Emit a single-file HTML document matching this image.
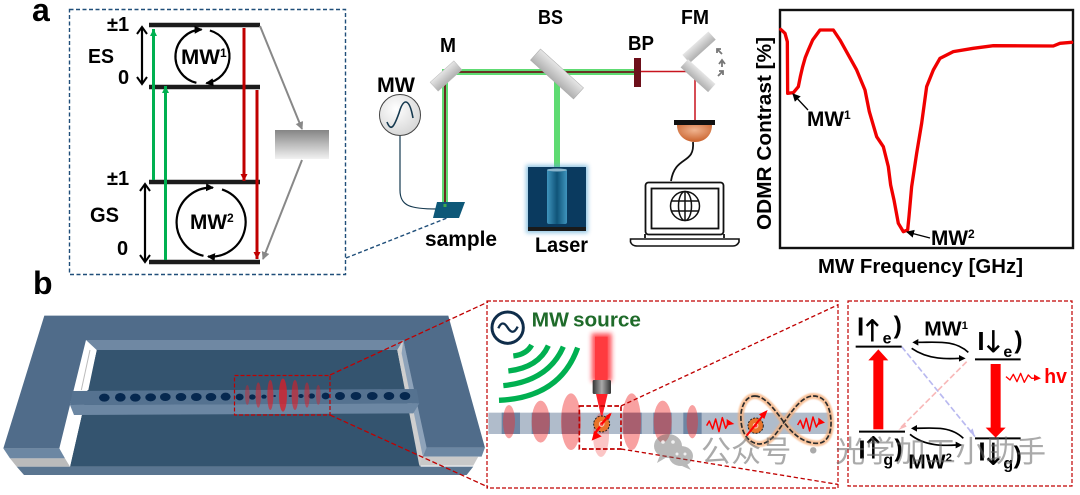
<!DOCTYPE html>
<html><head><meta charset="utf-8"><style>
html,body{margin:0;padding:0;background:#fff;width:1080px;height:495px;overflow:hidden}
svg{display:block;font-family:"Liberation Sans","Noto Sans CJK SC",sans-serif;font-weight:bold;filter:blur(.35px)}
</style></head><body>
<svg width="1080" height="495" viewBox="0 0 1080 495" xmlns="http://www.w3.org/2000/svg">
<defs>
<linearGradient id="gb" x1="0" y1="0" x2="0" y2="1"><stop offset="0" stop-color="#858585"/><stop offset="1" stop-color="#f2f2f2"/></linearGradient>
<linearGradient id="mir" x1="0" y1="0" x2="0" y2="1"><stop offset="0" stop-color="#e6e6e6"/><stop offset="1" stop-color="#b0b0b0"/></linearGradient>
<linearGradient id="cyl" x1="0" y1="0" x2="1" y2="0"><stop offset="0" stop-color="#3f94bd"/><stop offset=".5" stop-color="#0f5479"/><stop offset="1" stop-color="#3f94bd"/></linearGradient>
<linearGradient id="obj" x1="0" y1="0" x2="1" y2="0"><stop offset="0" stop-color="#333"/><stop offset=".5" stop-color="#aaa"/><stop offset="1" stop-color="#333"/></linearGradient>
<radialGradient id="det" cx=".5" cy=".3" r=".7"><stop offset="0" stop-color="#f0b490"/><stop offset="1" stop-color="#c9602a"/></radialGradient>
<radialGradient id="mwc" cx=".4" cy=".35" r=".7"><stop offset="0" stop-color="#fff"/><stop offset="1" stop-color="#d5d5d5"/></radialGradient>
<filter id="b2" x="-50%" y="-50%" width="200%" height="200%"><feGaussianBlur stdDeviation="2"/></filter>
<filter id="b6" x="-50%" y="-50%" width="200%" height="200%"><feGaussianBlur stdDeviation="7"/></filter>
<marker id="ak" markerUnits="userSpaceOnUse" markerWidth="12" markerHeight="12" refX="9" refY="6" orient="auto-start-reverse"><path d="M2 1L9 6L2 11" fill="none" stroke="#000" stroke-width="2"/></marker>
<marker id="ag" markerUnits="userSpaceOnUse" markerWidth="8" markerHeight="8" refX="7" refY="3.5" orient="auto"><path d="M0 0L7 3.5L0 7Z" fill="#00b050"/></marker>
<marker id="ar" markerUnits="userSpaceOnUse" markerWidth="8" markerHeight="8" refX="7" refY="3.5" orient="auto"><path d="M0 0L7 3.5L0 7Z" fill="#c00000"/></marker>
<marker id="agr" markerUnits="userSpaceOnUse" markerWidth="9" markerHeight="9" refX="7" refY="4" orient="auto"><path d="M0 0L8 4L0 8Z" fill="#888"/></marker>
<marker id="as" markerUnits="userSpaceOnUse" markerWidth="9" markerHeight="9" refX="7" refY="4" orient="auto"><path d="M0 0L8 4L0 8Z" fill="#000"/></marker>
</defs>
<rect width="1080" height="495" fill="#fff"/>

<!-- labels a,b -->
<text x="32" y="21" font-size="32">a</text>
<text x="33" y="294" font-size="32">b</text>

<!-- energy level box -->
<rect x="69.5" y="9.5" width="276" height="265" fill="none" stroke="#1f4e79" stroke-width="1.4" stroke-dasharray="4 2.5"/>
<g stroke="#1c1c1c" stroke-width="4.5">
<line x1="149" y1="25" x2="260" y2="25"/><line x1="149" y1="87" x2="260" y2="87"/>
<line x1="149" y1="182" x2="260" y2="182"/><line x1="149" y1="262" x2="260" y2="262"/>
</g>
<g stroke="#00b050" stroke-width="3" fill="none">
<line x1="153.500" y1="180" x2="153.500" y2="29" marker-end="url(#ag)"/>
<line x1="165.500" y1="260" x2="165.500" y2="86" marker-end="url(#ag)"/>
</g>
<g stroke="#c00000" stroke-width="3" fill="none">
<line x1="244" y1="28" x2="244" y2="181" marker-end="url(#ar)"/>
<line x1="257" y1="90" x2="257" y2="259" marker-end="url(#ar)"/>
</g>
<rect x="275" y="130" width="54" height="29" fill="url(#gb)"/>
<g stroke="#888" stroke-width="2" fill="none">
<line x1="260" y1="26" x2="302" y2="129" marker-end="url(#agr)"/>
<line x1="302" y1="160" x2="263" y2="259" marker-end="url(#agr)"/>
</g>
<g stroke="#000" stroke-width="2.200" fill="none">
<line x1="142" y1="27" x2="142" y2="84" marker-start="url(#ak)" marker-end="url(#ak)"/>
<line x1="145" y1="184" x2="145" y2="262" marker-start="url(#ak)" marker-end="url(#ak)"/>
<path d="M209.900 30.500A27 27 0 0 1 206.300 83.200" marker-end="url(#as)"/>
<path d="M196.400 82.800A27 27 0 0 1 201.600 29.500" marker-end="url(#as)"/>
<path d="M222 189.400A34.500 34.500 0 0 1 208 256.500" marker-end="url(#as)"/>
<path d="M203.500 255.800A34.500 34.500 0 0 1 213 187.700" marker-end="url(#as)"/>
</g>
<g font-size="20" fill="#000">
<text x="107" y="31">±1</text><text x="88" y="63" textLength="26" lengthAdjust="spacingAndGlyphs">ES</text><text x="118" y="84">0</text>
<text x="107" y="185">±1</text><text x="90" y="222" font-size="21" textLength="29" lengthAdjust="spacingAndGlyphs">GS</text><text x="117" y="255">0</text>
<text x="181" y="64" font-size="21" textLength="39" lengthAdjust="spacingAndGlyphs">MW</text><text x="220" y="57" font-size="12">1</text>
<text x="190" y="229" font-size="21" textLength="37" lengthAdjust="spacingAndGlyphs">MW</text><text x="227" y="222" font-size="12">2</text>
</g>

<!-- optics -->
<path d="M346 258L447 218" stroke="#1f4e79" stroke-width="1.400" stroke-dasharray="4 2.500" fill="none"/>
<g stroke="#5edb72" stroke-width="6" fill="none">
<path d="M445 207V72H635"/><path d="M557 76V167"/>
</g>
<g stroke="#6b1a1a" stroke-width="1.800" fill="none"><path d="M445 207V72H635"/></g>
<rect x="430" y="70" width="32" height="12" fill="url(#mir)" stroke="#bbb" stroke-width=".5" transform="rotate(-42 446 76)"/>
<rect x="528" y="66.500" width="58" height="15" fill="url(#mir)" stroke="#aaa" stroke-width=".5" transform="rotate(42 557 74)"/>
<rect x="634" y="58" width="7" height="29" fill="#6d0f1a"/>
<path d="M641 71.500H695V120" stroke="#c8141e" stroke-width="1.500" fill="none"/>
<rect x="682" y="42" width="35" height="11" fill="url(#mir)" transform="rotate(-42 699 48)"/>
<rect x="680" y="70" width="37" height="11" fill="url(#mir)" transform="rotate(42 698 75)"/>
<g fill="none" stroke="#777" stroke-width="1.800">
<path d="M722 54L717 49M717 53V49H721"/><path d="M722 67V61M719 64L722 60L725 64"/><path d="M718 76L723 71M719 71H723V75"/>
</g>
<rect x="674" y="120" width="41" height="5" fill="#111"/>
<path d="M677 125H712C712 136 704 142 695 142C686 142 677 136 677 125Z" fill="url(#det)"/>
<path d="M693 142C695 165 675 155 671 181" stroke="#111" stroke-width="1.800" fill="none"/>
<rect x="645.500" y="182.500" width="78" height="52" rx="3" fill="#fff" stroke="#111" stroke-width="1.800"/>
<rect x="651.500" y="188.500" width="67" height="40" fill="#fff" stroke="#111" stroke-width="1.800"/>
<path d="M645 234V238M724 234V238" stroke="#111" stroke-width="1.800"/>
<path d="M630.500 239H739V242Q737 246 733 246H637Q632 246 630.500 242Z" fill="#fff" stroke="#111" stroke-width="1.600"/>
<g fill="none" stroke="#111" stroke-width="1.500">
<circle cx="685" cy="206" r="14.500"/><ellipse cx="685" cy="206" rx="6.500" ry="14.500"/><path d="M671 201H699M671 211H699M685 191V221"/>
</g>
<rect x="526" y="165" width="62" height="68" fill="#5aa8d6" opacity=".65" filter="url(#b2)"/>
<rect x="528" y="167" width="58" height="64" fill="#0a3a5f"/>
<rect x="547" y="169" width="20" height="55" rx="2" fill="url(#cyl)"/>
<ellipse cx="557" cy="170" rx="10" ry="1.500" fill="#8cb6cc"/>
<rect x="528" y="227" width="58" height="4" fill="#1a1a1a"/>
<circle cx="400" cy="115" r="20.500" fill="url(#mwc)" stroke="#444" stroke-width="1"/>
<path d="M387 122C391 132 394 127 399 113C403 99 409 96 413 118" fill="none" stroke="#15394f" stroke-width="1.600"/>
<path d="M400 136V190C400 206 410 209 437 209" fill="none" stroke="#15394f" stroke-width="1.200"/>
<path d="M437 202H465L459 218H433Z" fill="#0e5878"/>
<line x1="445" y1="204" x2="445" y2="207" stroke="#3fa84f" stroke-width="3"/>
<g font-size="20" fill="#000">
<text x="377" y="92" font-size="21" textLength="38" lengthAdjust="spacingAndGlyphs">MW</text>
<text x="440" y="52" textLength="16" lengthAdjust="spacingAndGlyphs">M</text>
<text x="538" y="24" textLength="25" lengthAdjust="spacingAndGlyphs">BS</text>
<text x="628" y="50" textLength="26" lengthAdjust="spacingAndGlyphs">BP</text>
<text x="681" y="24" textLength="28" lengthAdjust="spacingAndGlyphs">FM</text>
<text x="425" y="246" font-size="21" textLength="72" lengthAdjust="spacingAndGlyphs">sample</text>
<text x="535" y="252" font-size="21" textLength="53" lengthAdjust="spacingAndGlyphs">Laser</text>
</g>

<!-- chart -->
<rect x="780" y="10" width="293" height="238" fill="none" stroke="#111" stroke-width="2.400"/>
<g transform="translate(740 0) scale(.3333)">
<polyline fill="none" stroke="#f00000" stroke-width="10" stroke-linejoin="round" stroke-linecap="round" points="122,88 135,100 142,125 143,280 160,278 175,260 181,230 188,200 196,172 205,150 218,120 240,90 280,90 300,120 325,165 350,210 375,270 388,335 410,410 430,440 445,500 452,555 462,600 475,670 490,695 503,690 507,650 515,560 530,460 545,370 560,260 580,210 600,175 640,155 700,145 760,137 940,138 960,130 995,127"/>
</g>
<g stroke="#000" stroke-width="1.300" fill="none">
<line x1="808" y1="110" x2="793" y2="94" marker-end="url(#as)"/>
<line x1="930" y1="238" x2="907" y2="232" marker-end="url(#as)"/>
</g>
<g font-size="21" fill="#000">
<text x="807" y="126" textLength="37" lengthAdjust="spacingAndGlyphs">MW</text><text x="844" y="119" font-size="12">1</text>
<text x="931" y="245" textLength="37" lengthAdjust="spacingAndGlyphs">MW</text><text x="968" y="238" font-size="12">2</text>
<text x="818" y="273" font-size="20" textLength="205" lengthAdjust="spacingAndGlyphs">MW Frequency [GHz]</text>
<text transform="translate(771 230) rotate(-90)" font-size="20" textLength="193" lengthAdjust="spacingAndGlyphs">ODMR Contrast [%]</text>
</g>

<!-- device -->
<g transform="translate(0 295) scale(.3333)">
<path d="M50 515H1420L1400 540H72Z" fill="#5a7590"/>
<path d="M290 165H1192L1262 515H210Z" fill="#34546f"/>
<path d="M258 135L290 165L210 515L178 460Z" fill="#fff"/>
<path d="M245 285L272 165H290L265 285ZM222 360H245L210 512L180 460Z" fill="#fff"/>
<path d="M270 165L244 285" stroke="#bbb" stroke-width="3" fill="none"/>
<path d="M1192 165L1210 135L1282 458L1258 512Z" fill="#cfcfcf"/>
<path d="M1210 135L1282 458L1268 482L1205 175Z" fill="#8ea3ba"/>
<path d="M258 135H1210L1192 165H290Z" fill="#6f88a3"/>
<path d="M10 460H178L195 490H30Z" fill="#6c87a3"/>
<path d="M30 490H195L210 515H50Z" fill="#bbb"/>
<path d="M1280 458H1455L1445 485H1268Z" fill="#6c87a3"/>
<path d="M1268 485H1435L1420 512H1258Z" fill="#c9c9c9"/>
<path d="M133 62H1345L1455 458H1280L1210 135H258L178 460H10Z" fill="#506c8a"/>
<path d="M218 288L1250 282L1258 325L210 330Z" fill="#557290"/>
<path d="M210 330L1258 325L1240 355L222 360Z" fill="#6c87a3"/>
<g fill="#06284f">
<ellipse cx="313" cy="308" rx="16" ry="12"/><ellipse cx="361" cy="307" rx="16" ry="13"/><ellipse cx="406" cy="308" rx="16" ry="12"/><ellipse cx="452" cy="307" rx="16" ry="12"/><ellipse cx="496" cy="306" rx="16" ry="12"/><ellipse cx="543" cy="306" rx="16" ry="12"/><ellipse cx="589" cy="306" rx="16" ry="12"/><ellipse cx="633" cy="306" rx="16" ry="12"/><ellipse cx="677" cy="305" rx="15" ry="12"/><ellipse cx="719" cy="306" rx="12" ry="10"/><ellipse cx="757" cy="306" rx="10" ry="8"/><ellipse cx="792" cy="305" rx="8" ry="6"/><ellipse cx="824" cy="303" rx="4" ry="3"/><ellipse cx="871" cy="303" rx="5" ry="3"/><ellipse cx="903" cy="303" rx="8" ry="6"/><ellipse cx="935" cy="303" rx="10" ry="8"/><ellipse cx="977" cy="303" rx="12" ry="10"/><ellipse cx="1020" cy="303" rx="15" ry="12"/><ellipse cx="1068" cy="303" rx="16" ry="12"/><ellipse cx="1117" cy="303" rx="16" ry="12"/><ellipse cx="1167" cy="303" rx="16" ry="12"/><ellipse cx="1215" cy="303" rx="16" ry="12"/>
</g>
<g fill="#e01c24">
<ellipse cx="742" cy="300" rx="7" ry="30" opacity=".4"/><ellipse cx="775" cy="300" rx="8" ry="38" opacity=".5"/><ellipse cx="811" cy="300" rx="9" ry="45" opacity=".6"/><ellipse cx="849" cy="300" rx="12" ry="50" opacity=".75"/><ellipse cx="885" cy="300" rx="10" ry="45" opacity=".6"/><ellipse cx="921" cy="300" rx="8" ry="38" opacity=".5"/><ellipse cx="955" cy="300" rx="7" ry="30" opacity=".4"/>
</g>
</g>
<rect x="234.500" y="375.500" width="95.500" height="39.500" fill="none" stroke="#c00000" stroke-width="1.200" stroke-dasharray="4 2"/>
<g fill="none" stroke="#c00000" stroke-width="1.300" stroke-dasharray="5 2.500">
<path d="M330 375L488 302M330 415L488 487"/>
</g>

<!-- middle panel -->
<rect x="487" y="301" width="351" height="187" fill="none" stroke="#c00000" stroke-width="1.200" stroke-dasharray="4 2"/>
<g transform="translate(485 295) scale(.3333)">
<rect x="10" y="353" width="1030" height="64" fill="#b0bccb"/>
<g fill="#6e86a4">
<rect x="50" y="353" width="55" height="64"/><rect x="140" y="353" width="55" height="64"/><rect x="230" y="353" width="55" height="64"/><rect x="415" y="353" width="55" height="64"/><rect x="505" y="353" width="55" height="64"/><rect x="595" y="353" width="55" height="64"/>
</g>
<g fill="#f03030" opacity=".45">
<ellipse cx="72" cy="380" rx="18" ry="50"/><ellipse cx="167" cy="380" rx="27" ry="63"/><ellipse cx="258" cy="380" rx="30" ry="85"/><ellipse cx="440" cy="380" rx="28" ry="85"/><ellipse cx="533" cy="380" rx="27" ry="63"/><ellipse cx="622" cy="380" rx="17" ry="50"/>
</g>
<ellipse cx="348" cy="420" rx="24" ry="66" fill="#f03030" opacity=".28"/>
<rect x="320" y="115" width="60" height="145" fill="#ff1d25" opacity=".75" filter="url(#b6)"/>
<rect x="330" y="125" width="38" height="135" fill="#ff3a3f"/>
<path d="M333 297H368L350 372Z" fill="#ff2028"/>
<rect x="323" y="255" width="55" height="42" rx="4" fill="url(#obj)"/>
<rect x="283" y="333" width="125" height="129" fill="none" stroke="#c00000" stroke-width="5" stroke-dasharray="14 7"/>
<path d="M408 333L1058 30M408 462L1058 568" fill="none" stroke="#c00000" stroke-width="4" stroke-dasharray="13 8"/>
<circle cx="350" cy="387" r="24" fill="#e8742a" stroke="#222" stroke-width="3" stroke-dasharray="6 4"/>
<circle cx="350" cy="387" r="7" fill="#ff4040" stroke="#ffd0c0" stroke-width="3"/>
<path d="M350 387L376 357" stroke="#f00" stroke-width="7"/>
<path d="M380 353L362 363L372 373Z" fill="#f00"/>
<path d="M345 395L328 418" stroke="#f00" stroke-width="7"/>
<path d="M320 437L328 408L350 424Z" fill="#f00"/>
<path id="eight" d="M810 303C840 303 870 345 897 382C925 420 960 447 1000 445C1030 442 1040 410 1038 375C1035 335 1020 303 985 303C950 303 920 350 897 382C880 405 860 445 825 447C795 447 770 420 768 375C765 340 780 303 810 303Z" fill="none" stroke="#f7b07c" stroke-width="18" opacity=".75" filter="url(#b2)"/>
<path d="M810 303C840 303 870 345 897 382C925 420 960 447 1000 445C1030 442 1040 410 1038 375C1035 335 1020 303 985 303C950 303 920 350 897 382C880 405 860 445 825 447C795 447 770 420 768 375C765 340 780 303 810 303Z" fill="none" stroke="#2b2b2b" stroke-width="5" stroke-dasharray="15 6"/>
<circle cx="812" cy="392" r="23" fill="#e8742a" stroke="#222" stroke-width="3" stroke-dasharray="6 4"/>
<circle cx="812" cy="392" r="7" fill="#ff4040" stroke="#ffd0c0" stroke-width="3"/>
<path d="M785 422L835 360" stroke="#f00" stroke-width="6"/><path d="M848 345L822 358L838 372Z" fill="#f00"/>
<g fill="none" stroke="#f00" stroke-width="4.500" stroke-linejoin="round">
<path d="M665 392L673 378L683 402L692 372L702 410L712 368L722 400L730 385"/>
<path d="M938 390L946 376L955 400L964 370L974 408L984 366L994 396L1002 382"/>
</g>
<path d="M725 372L748 387L725 392Z" fill="#f00"/><path d="M1000 368L1020 383L1000 390Z" fill="#f00"/>
<circle cx="68" cy="98" r="47" fill="#fff" stroke="#0f2d4a" stroke-width="9"/>
<path d="M40 100Q52 72 68 98T98 95" fill="none" stroke="#0f2d4a" stroke-width="7"/>
<g fill="none" stroke="#00b050" stroke-width="16">
<path d="M85 183Q125 178 140 150"/><path d="M70 228Q160 218 190 152"/><path d="M55 272Q190 258 235 155"/><path d="M42 316Q225 308 278 158"/>
</g>
<text x="140" y="95" font-size="60" fill="#1f6b2a" textLength="112" lengthAdjust="spacingAndGlyphs">MW</text>
<text x="264" y="95" font-size="60" fill="#1f6b2a" textLength="204" lengthAdjust="spacingAndGlyphs">source</text>
</g>

<!-- right panel -->
<rect x="848" y="301" width="224" height="185" fill="none" stroke="#c00000" stroke-width="1.200" stroke-dasharray="4 2"/>
<g transform="translate(835 295) scale(.3333)">
<path d="M200 155L420 425" stroke="#b9b9f0" stroke-width="5" stroke-dasharray="18 8" fill="none"/>
<path d="M395 200L195 400" stroke="#f8b8b8" stroke-width="5" stroke-dasharray="18 8" fill="none"/>
<path d="M420 425L403 410L413 400Z" fill="#b9b9f0"/><path d="M190 405L208 385L215 395Z" fill="#f8b8b8"/>
<g stroke="#000" stroke-width="6">
<line x1="62" y1="155" x2="200" y2="155"/><line x1="420" y1="193" x2="557" y2="193"/><line x1="72" y1="410" x2="210" y2="410"/><line x1="420" y1="430" x2="557" y2="430"/>
</g>
<rect x="115" y="195" width="30" height="208" fill="#f00"/><path d="M100 196H160L130 163Z" fill="#f00"/>
<rect x="467" y="207" width="30" height="193" fill="#f00"/><path d="M452 398H512L482 428Z" fill="#f00"/>
<g fill="none" stroke="#000" stroke-width="5">
<path d="M400 172C360 135 310 142 250 142"/><path d="M230 160C280 195 340 192 375 190"/>
<path d="M385 430C350 395 300 398 245 400"/><path d="M225 418C270 455 330 452 365 450"/>
</g>
<path d="M232 142L250 132V152Z M392 190L372 180V200Z M228 400L246 390V410Z M382 450L362 440V460Z" fill="#000"/>
<g fill="#000" font-size="78">
<text x="66" y="122">I</text><text x="143" y="146" font-size="48">e</text><text x="176" y="115" font-size="74">)</text>
<text x="427" y="165">I</text><text x="505" y="186" font-size="48">e</text><text x="538" y="160" font-size="74">)</text>
<text x="70" y="490">I</text><text x="145" y="510" font-size="48">g</text><text x="178" y="485" font-size="74">)</text>
<text x="430" y="497">I</text><text x="505" y="520" font-size="48">g</text><text x="536" y="505" font-size="74">)</text>
</g>
<g fill="#000" font-size="92" font-weight="normal" text-anchor="middle" font-family="'DejaVu Sans',sans-serif">
<text x="112" y="140">↑</text><text x="475" y="172">↓</text><text x="115" y="490">↑</text><text x="475" y="510">↓</text>
</g>
<g fill="#000" font-size="60">
<text x="268" y="122" textLength="112" lengthAdjust="spacingAndGlyphs">MW</text><text x="380" y="102" font-size="34">1</text>
<text x="220" y="520" textLength="112" lengthAdjust="spacingAndGlyphs">MW</text><text x="332" y="498" font-size="34">2</text>
</g>
<path d="M513 245L525 255L535 238L546 260L557 235L568 262L580 240L590 250H600" fill="none" stroke="#f00" stroke-width="4" stroke-linejoin="round"/>
<path d="M597 238L618 250L597 258Z" fill="#f00"/>
<text x="628" y="264" font-size="60" fill="#f00" textLength="68" lengthAdjust="spacingAndGlyphs">hv</text>
</g>

<!-- watermark -->
<g opacity=".45" fill="#666">
<ellipse cx="668" cy="446" rx="14" ry="12"/>
<ellipse cx="681" cy="456" rx="12" ry="10"/>
<path d="M660 455L657 463L667 457Z M687 464L691 470L682 466Z"/>
</g>
<g fill="#fff" opacity=".8"><circle cx="663" cy="442" r="1.800"/><circle cx="673" cy="442" r="1.800"/><circle cx="677" cy="454" r="1.500"/><circle cx="685" cy="454" r="1.500"/></g>
<text x="701" y="462" font-size="30" font-weight="normal" fill="#666" opacity=".55" font-family="'Noto Sans CJK SC',sans-serif" textLength="345">公众号 · 光学加工小助手</text>
</svg>
</body></html>
